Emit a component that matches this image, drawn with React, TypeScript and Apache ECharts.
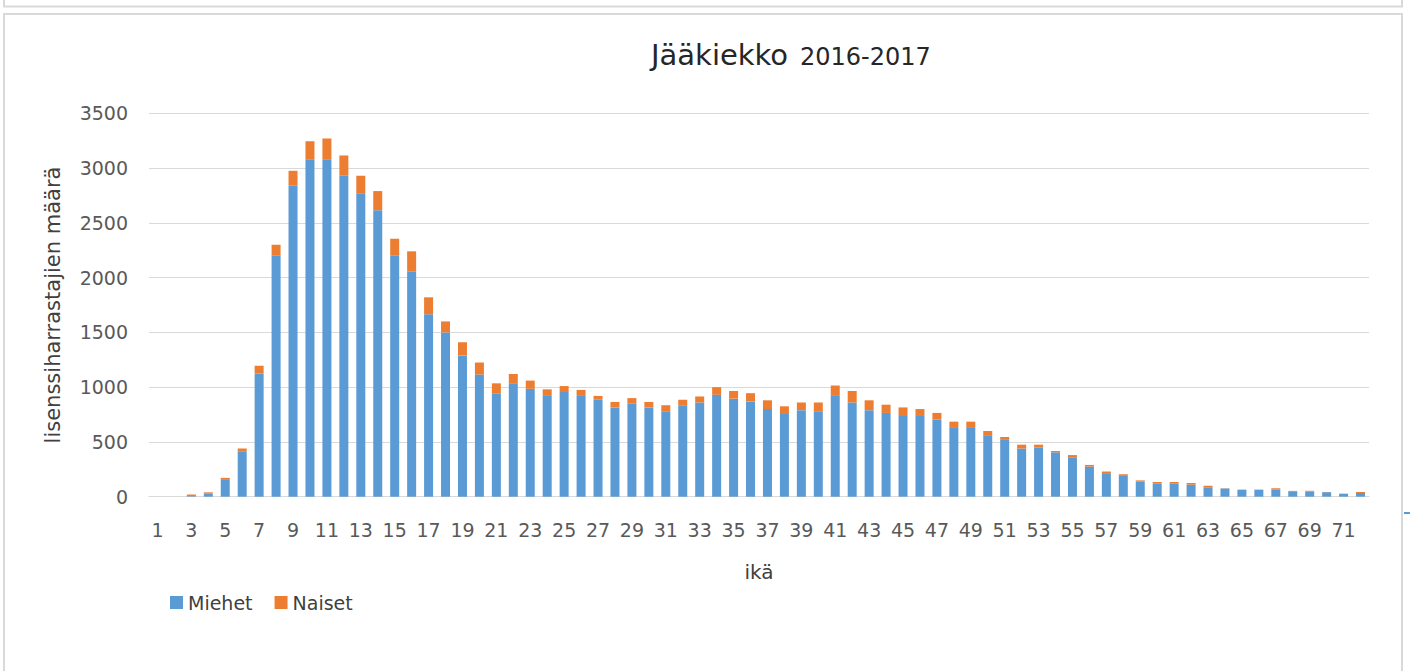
import React, { useEffect, useRef } from "react";
import * as echarts from "echarts";

const ages: string[] = Array.from({ length: 72 }, (_, i) => String(i + 1));

const miehet: number[] = [
  0, 0, 5, 30, 160, 415, 1125, 2205, 2840, 3080,
  3080, 2930, 2770, 2615, 2205, 2055, 1665, 1500, 1290, 1115,
  945, 1035, 985, 920, 955, 920, 885, 815, 850, 815,
  780, 835, 860, 930, 895, 870, 800, 755, 790, 775,
  920, 860, 790, 765, 745, 745, 705, 635, 635, 555,
  525, 440, 450, 405, 360, 275, 215, 190, 137, 122,
  122, 110, 86, 75, 63, 63, 67, 50, 46, 41,
  27, 34,
];

const naiset: number[] = [
  0, 0, 15, 10, 12, 25, 70, 95, 135, 165,
  190, 185, 160, 175, 150, 185, 155, 100, 120, 110,
  90, 85, 75, 60, 55, 55, 35, 50, 50, 50,
  55, 50, 55, 70, 70, 75, 80, 70, 70, 85,
  95, 105, 90, 75, 70, 55, 60, 50, 50, 45,
  20, 35, 25, 12, 20, 15, 15, 15, 12, 12,
  12, 15, 14, 2, 2, 2, 10, 3, 8, 2,
  1, 9,
];

const yTicks = { min: 0, max: 3500, interval: 500 };

const FONT = "DejaVu Sans";

export default function App() {
  const ref = useRef<HTMLDivElement>(null);
  useEffect(() => {
    if (!ref.current) return;
    const chart = echarts.init(ref.current, null, { renderer: "svg" });
    chart.setOption({
      animation: false,
      backgroundColor: "#ffffff",
      textStyle: { fontFamily: FONT },
      grid: { left: 149, right: 45, top: 113.3, bottom: 174.3, containLabel: false },
      legend: {
        left: 165,
        top: 588,
        itemWidth: 13,
        itemHeight: 13,
        itemGap: 22,
        icon: "rect",
        textStyle: { fontFamily: FONT, fontSize: 19, color: "#404040" },
        data: ["Miehet", "Naiset"],
      },
      xAxis: {
        type: "category",
        data: ages,
        name: "ikä",
        nameLocation: "middle",
        nameGap: 65,
        nameTextStyle: { fontFamily: FONT, fontSize: 20, color: "#404040" },
        axisLine: { lineStyle: { color: "#d9d9d9", width: 1 } },
        axisTick: { show: false },
        axisLabel: { interval: 1, fontFamily: FONT, fontSize: 19, color: "#595959", margin: 24 },
      },
      yAxis: {
        type: "value",
        min: yTicks.min,
        max: yTicks.max,
        interval: yTicks.interval,
        name: "lisenssiharrastajien määrä",
        nameLocation: "middle",
        nameGap: 86,
        nameTextStyle: { fontFamily: FONT, fontSize: 21, color: "#404040" },
        axisLine: { show: false },
        axisTick: { show: false },
        axisLabel: {
          fontFamily: FONT,
          fontSize: 19,
          color: "#595959",
          margin: 21,
          formatter: (v: number) => String(v),
        },
        splitLine: { lineStyle: { color: "#d9d9d9", width: 1 } },
      },
      series: [
        {
          name: "Miehet",
          type: "bar",
          stack: "total",
          data: miehet,
          barWidth: 9,
          itemStyle: { color: "#5b9bd5" },
        },
        {
          name: "Naiset",
          type: "bar",
          stack: "total",
          data: naiset,
          barWidth: 9,
          itemStyle: { color: "#ed7d31" },
        },
      ],
      graphic: [
        {
          type: "rect",
          shape: { x: 4, y: -10, width: 1398, height: 16.5 },
          style: { fill: "none", stroke: "#d9d9d9", lineWidth: 2 },
          silent: true,
        },
        {
          type: "rect",
          shape: { x: 4, y: 14, width: 1398, height: 680 },
          style: { fill: "none", stroke: "#d9d9d9", lineWidth: 2 },
          silent: true,
        },
        {
          type: "line",
          shape: { x1: 1404, y1: 513, x2: 1410, y2: 513 },
          style: { stroke: "#5b9bd5", lineWidth: 2 },
          silent: true,
        },
        {
          type: "text",
          x: 651,
          y: 55,
          style: {
            text: "Jääkiekko",
            fontFamily: FONT,
            fontSize: 29,
            fill: "#262626",
            align: "left",
            verticalAlign: "middle",
          },
        },
        {
          type: "text",
          x: 800,
          y: 56.7,
          style: {
            text: "2016-2017",
            fontFamily: FONT,
            fontSize: 24,
            fill: "#262626",
            align: "left",
            verticalAlign: "middle",
          },
        },
      ],
    });
    return () => chart.dispose();
  }, []);
  return (
    <div
      ref={ref}
      style={{ position: "absolute", left: 0, top: 0, width: 1414, height: 671 }}
    />
  );
}
